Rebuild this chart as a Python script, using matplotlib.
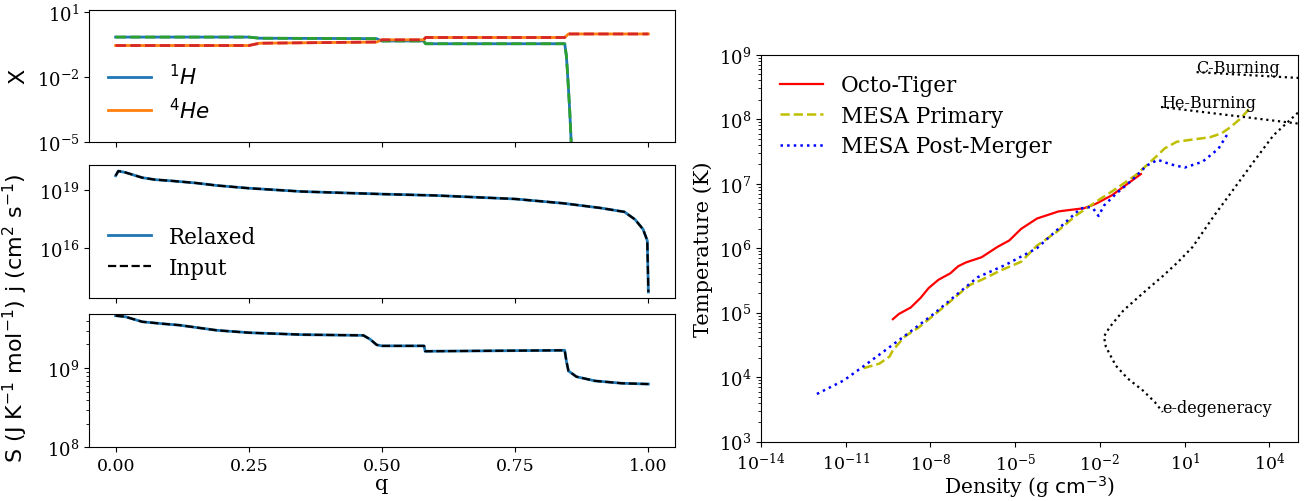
import numpy as np
import matplotlib
matplotlib.use('Agg')
import matplotlib.pyplot as plt
from matplotlib.ticker import NullLocator

plt.rcParams['font.family'] = 'serif'
plt.rcParams['xtick.labelsize'] = 12.5
plt.rcParams['ytick.labelsize'] = 13

# composition profile (mass fractions vs mass coordinate q)
q_h = [0.0, 0.25, 0.27, 0.49, 0.50, 0.578, 0.582, 0.843, 0.846, 0.848, 0.850, 0.8525, 0.855, 0.86]
x_h = [0.71, 0.71, 0.63, 0.60, 0.47, 0.47, 0.35, 0.35, 0.1, 0.02, 3e-3, 2.5e-4, 1.2e-5, 1e-7]
q_he = [0.0, 0.25, 0.27, 0.49, 0.50, 0.578, 0.582, 0.843, 0.850, 1.0]
x_he = [0.29, 0.29, 0.37, 0.42, 0.53, 0.53, 0.68, 0.68, 0.99, 0.99]

# specific angular momentum (log10, cm^2 s^-1)
q_j = [0.0, 0.005, 0.018, 0.05, 0.074, 0.108, 0.15, 0.19, 0.25, 0.35, 0.5, 0.6, 0.75,
       0.84, 0.91, 0.955, 0.975, 0.99, 0.998, 1.0]
log_j = [19.72, 19.96, 19.89, 19.62, 19.52, 19.45, 19.35, 19.22, 19.08, 18.91, 18.78, 18.71,
         18.53, 18.31, 18.07, 17.87, 17.48, 16.98, 16.4, 13.77]

# entropy (log10, J K^-1 mol^-1)
q_s = [0.0, 0.018, 0.05, 0.09, 0.12, 0.19, 0.25, 0.35, 0.465, 0.478, 0.49, 0.5, 0.579,
       0.581, 0.843, 0.846, 0.85, 0.865, 0.9, 0.95, 1.0]
log_s = [9.665, 9.652, 9.588, 9.562, 9.545, 9.48, 9.45, 9.425, 9.416, 9.365, 9.296, 9.283,
         9.283, 9.215, 9.227, 9.094, 8.966, 8.893, 8.84, 8.81, 8.80]

# rho-T profiles (log10 values)
octo_rho = [-9.33, -9.12, -8.70, -8.35, -8.07, -7.72, -7.30, -7.02, -6.74, -6.19, -5.63,
            -5.21, -4.79, -4.23, -3.47, -3.12, -2.56, -2.14, -1.58, -1.02, -0.55]
octo_T = [4.90, 4.98, 5.08, 5.23, 5.38, 5.51, 5.61, 5.72, 5.78, 5.86, 6.02,
          6.12, 6.30, 6.46, 6.57, 6.59, 6.62, 6.69, 6.82, 7.0, 7.15]

prim_rho = [-10.37, -9.81, -9.45, -9.33, -8.91, -8.42, -7.58, -7.02, -6.60, -6.19, -5.49,
            -4.79, -4.23, -3.54, -2.84, -2.14, -1.44, -0.74, -0.11, 0.3, 0.72, 1.2,
            1.89, 2.30, 2.60, 2.95, 3.33]
prim_T = [4.14, 4.21, 4.32, 4.42, 4.63, 4.77, 5.07, 5.28, 5.43, 5.51, 5.66,
          5.79, 6.04, 6.25, 6.51, 6.72, 6.92, 7.13, 7.38, 7.55, 7.65, 7.68,
          7.72, 7.78, 7.87, 8.0, 8.18]

post_rho = [-12.02, -11.07, -10.37, -9.53, -8.70, -7.86, -7.02, -6.33, -5.35, -4.23,
            -3.40, -2.70, -2.45, -2.25, -2.05, -1.86, -1.44, -0.88, -0.35, 0.05, 0.5,
            1.0, 1.63, 2.19, 2.53]
post_T = [3.74, 3.95, 4.17, 4.44, 4.71, 4.99, 5.30, 5.55, 5.74, 6.0,
          6.33, 6.61, 6.64, 6.62, 6.50, 6.66, 6.84, 7.05, 7.28, 7.37, 7.30,
          7.25, 7.34, 7.54, 7.78]

# reference lines
cburn_rho = [1.42, 6.0]
cburn_T = [8.73, 8.615]
heburn_rho = [0.16, 6.0]
heburn_T = [8.19, 7.88]
degen_rho = [5.6, 4.98, 4.14, 3.44, 2.74, 2.05, 1.28, 0.75, 0.23, -0.33, -1.16, -1.65,
             -1.86, -1.79, -1.44, -1.02, -0.47, -0.05, 0.22]
degen_T = [8.42, 8.09, 7.75, 7.34, 6.92, 6.51, 6.02, 5.78, 5.57, 5.36, 5.04, 4.78,
           4.63, 4.47, 4.18, 3.98, 3.79, 3.61, 3.46]


def pow10(values):
    return 10.0 ** np.array(values)


W, H = 1308, 502
fig = plt.figure(figsize=(W / 100, H / 100), dpi=100)


def px_axes(left, top, right, bottom):
    return fig.add_axes([left / W, 1 - bottom / H, (right - left) / W, (bottom - top) / H])


ax_x = px_axes(89, 10.7, 675, 143.3)
ax_j = px_axes(89, 166, 675, 299)
ax_s = px_axes(89, 314.7, 675, 448.3)
ax_rt = px_axes(761, 55.7, 1297.7, 442.7)

# composition
ax_x.plot(q_h, x_h, color='C0', lw=2, label=r'$^1H$')
ax_x.plot(q_he, x_he, color='C1', lw=2, label=r'$^4He$')
ax_x.plot(q_h, x_h, color='C2', lw=2, ls='--')
ax_x.plot(q_he, x_he, color='C3', lw=2, ls='--')
ax_x.set_yscale('log')
ax_x.set_ylim(1e-5, 13)
ax_x.set_yticks([1e-5, 1e-2, 1e1])
ax_x.yaxis.set_minor_locator(NullLocator())
ax_x.set_ylabel(r'$\mathrm{X}$', fontsize=16)
ax_x.legend(loc='lower left', frameon=False, fontsize=15.5, labelspacing=0.4)

# angular momentum
ax_j.plot(q_j, pow10(log_j), color='C0', lw=2, label='Relaxed')
ax_j.plot(q_j, pow10(log_j), color='k', lw=1.6, ls='--', label='Input')
ax_j.set_yscale('log')
ax_j.set_yticks([1e16, 1e19])
ax_j.yaxis.set_minor_locator(NullLocator())
ax_j.set_ylabel(r'$\mathrm{j\ (cm^2\ s^{-1})}$', fontsize=16)
ax_j.legend(loc='lower left', frameon=False, fontsize=15.5, labelspacing=0.4)

# entropy
ax_s.plot(q_s, pow10(log_s), color='C0', lw=2)
ax_s.plot(q_s, pow10(log_s), color='k', lw=1.6, ls='--')
ax_s.set_yscale('log')
ax_s.set_ylim(1e8, 4.9e9)
ax_s.set_ylabel(r'$\mathrm{S\ (J\ K^{-1}\ mol^{-1})}$', fontsize=16)
ax_s.set_xlabel('q', fontsize=15, labelpad=0)

for ax in (ax_x, ax_j, ax_s):
    ax.set_xlim(-0.05, 1.05)
    ax.set_xticks([0, 0.25, 0.5, 0.75, 1.0])
    ax.yaxis.set_label_coords(-0.1, 0.5)
ax_x.tick_params(labelbottom=False)
ax_j.tick_params(labelbottom=False)

# rho-T plane
ax_rt.plot(pow10(octo_rho), pow10(octo_T), color='r', lw=1.6, label='Octo-Tiger')
ax_rt.plot(pow10(prim_rho), pow10(prim_T), color='y', lw=1.8, ls='--', label='MESA Primary')
ax_rt.plot(pow10(post_rho), pow10(post_T), color='b', lw=1.8, ls=':', label='MESA Post-Merger')
ax_rt.plot(pow10(cburn_rho), pow10(cburn_T), color='k', lw=1.6, ls=':')
ax_rt.plot(pow10(heburn_rho), pow10(heburn_T), color='k', lw=1.6, ls=':')
ax_rt.plot(pow10(degen_rho), pow10(degen_T), color='k', lw=1.6, ls=':')
ax_rt.text(10 ** cburn_rho[0], 10 ** cburn_T[0], 'C-Burning', fontsize=11.5)
ax_rt.text(10 ** heburn_rho[0], 10 ** heburn_T[0], 'He-Burning', fontsize=11.5)
ax_rt.text(10 ** degen_rho[-1], 10 ** degen_T[-1], 'e-degeneracy', fontsize=11.5)
ax_rt.set_xscale('log')
ax_rt.set_yscale('log')
ax_rt.set_xlim(1e-14, 1e5)
ax_rt.set_ylim(1e3, 1e9)
ax_rt.set_xticks([1e-14, 1e-11, 1e-8, 1e-5, 1e-2, 1e1, 1e4])
ax_rt.xaxis.set_minor_locator(NullLocator())
ax_rt.set_xlabel(r'Density (g $\mathrm{cm^{-3}}$)', fontsize=14.5, labelpad=0)
ax_rt.set_ylabel('Temperature (K)', fontsize=15)
ax_rt.legend(loc='upper left', frameon=False, fontsize=15.5, labelspacing=0.4)

fig.savefig('out.png', dpi=100)
